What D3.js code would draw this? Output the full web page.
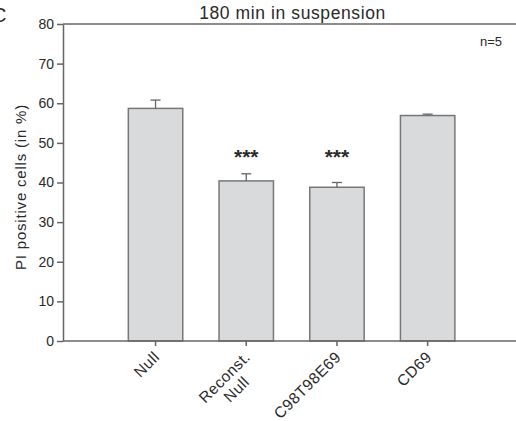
<!DOCTYPE html>
<html>
<head>
<meta charset="utf-8">
<script src="https://cdn.jsdelivr.net/npm/d3@7"></script>
<style>
  body { margin: 0; background: #fff; }
  text { font-family: "Liberation Sans", Arial, sans-serif; fill: #2a2a2a; }
</style>
</head>
<body>
<svg id="chart"></svg>
<script>
// data
const categories = ["Null", "Reconst.\nNull", "C98T98E69", "CD69"];
const values = [58.7, 40.4, 38.8, 56.9];
const errors = [2.1, 1.8, 1.2, 0.35];
const stars = ["", "***", "***", ""];
const starLevel = 45;
const yTicks = [0, 10, 20, 30, 40, 50, 60, 70, 80];

const width = 516;
const height = 421;
const plotLeft = 63;
const plotRight = 516;
const plotTop = 24;
const plotBottom = 341;

const svg = d3.select("#chart").attr("width", width).attr("height", height);

// scales
const x = d3.scaleBand()
  .domain(categories)
  .range([110.2, 473])
  .paddingInner(0.4)
  .paddingOuter(0.2);

const y = d3.scaleLinear().domain([0, 80]).range([plotBottom, plotTop]);

// panel letter, cut off at the edge in the source figure
svg.append("text")
  .attr("x", -8)
  .attr("y", 22)
  .attr("font-size", 20)
  .text("C");

// title
svg.append("text")
  .attr("x", (plotLeft + plotRight) / 2 + 3)
  .attr("y", 18.5)
  .attr("text-anchor", "middle")
  .attr("font-size", 17.5)
  .attr("letter-spacing", 0.6)
  .text("180 min in suspension");

svg.append("text")
  .attr("x", 502)
  .attr("y", 46)
  .attr("text-anchor", "end")
  .attr("font-size", 13)
  .text("n=5");

// top frame line
svg.append("line")
  .attr("x1", plotLeft).attr("x2", plotRight)
  .attr("y1", plotTop).attr("y2", plotTop)
  .attr("stroke", "#666").attr("stroke-width", 1.5);

// bars
svg.selectAll(".bar")
  .data(values)
  .enter()
  .append("rect")
  .attr("class", "bar")
  .attr("x", (d, i) => x(categories[i]))
  .attr("y", (d) => y(d))
  .attr("width", x.bandwidth())
  .attr("height", (d) => plotBottom - y(d))
  .attr("fill", "#d9dadc")
  .attr("stroke", "#777")
  .attr("stroke-width", 1.5);

// error bars (upper only)
const cx = (i) => x(categories[i]) + x.bandwidth() / 2;
const err = svg.append("g").attr("stroke", "#666").attr("stroke-width", 1.3);
values.forEach((v, i) => {
  err.append("line")
    .attr("x1", cx(i)).attr("x2", cx(i))
    .attr("y1", y(v)).attr("y2", y(v + errors[i]));
  err.append("line")
    .attr("x1", cx(i) - 5).attr("x2", cx(i) + 5)
    .attr("y1", y(v + errors[i])).attr("y2", y(v + errors[i]));
});

// significance stars
svg.selectAll(".star")
  .data(stars)
  .enter()
  .append("text")
  .attr("class", "star")
  .attr("x", (d, i) => cx(i))
  .attr("y", y(starLevel) + 1)
  .attr("text-anchor", "middle")
  .attr("font-size", 21)
  .attr("font-weight", "bold")
  .text((d) => d);

// y axis
const yAxis = d3.axisLeft(y).tickValues(yTicks).tickSize(6).tickSizeOuter(0).tickPadding(3);
const gy = svg.append("g")
  .attr("transform", `translate(${plotLeft}, 0)`)
  .call(yAxis);
gy.selectAll("path, line").attr("stroke", "#666").attr("stroke-width", 1.5);
gy.selectAll("text")
  .attr("font-size", 14)
  .attr("font-family", "'Liberation Sans', Arial, sans-serif")
  .attr("fill", "#2a2a2a");

svg.append("text")
  .attr("transform", `translate(26, 187) rotate(-90)`)
  .attr("text-anchor", "middle")
  .attr("font-size", 15)
  .attr("letter-spacing", 0.8)
  .text("PI positive  cells (in %)");

// x axis
const xAxis = d3.axisBottom(x).tickSize(5).tickSizeOuter(0).tickFormat("");
const gx = svg.append("g")
  .attr("transform", `translate(0, ${plotBottom})`)
  .call(xAxis);
gx.select(".domain").remove();
gx.selectAll("line").attr("stroke", "#666").attr("stroke-width", 1.5);
svg.append("line")
  .attr("x1", plotLeft).attr("x2", plotRight)
  .attr("y1", plotBottom).attr("y2", plotBottom)
  .attr("stroke", "#666").attr("stroke-width", 1.5);

// rotated category labels
categories.forEach((c, i) => {
  const lines = c.split("\n");
  const t = svg.append("text")
    .attr("transform", `translate(${cx(i) + 5}, 358) rotate(-45)`)
    .attr("font-size", 15.5)
    .attr("letter-spacing", 0.5);
  const first = t.append("tspan").attr("x", 0).attr("text-anchor", "end").text(lines[0]);
  if (lines.length > 1) {
    const w = first.node().getComputedTextLength();
    t.append("tspan")
      .attr("x", -w / 2)
      .attr("dy", "1.1em")
      .attr("text-anchor", "middle")
      .text(lines[1]);
  }
});
</script>
</body>
</html>
